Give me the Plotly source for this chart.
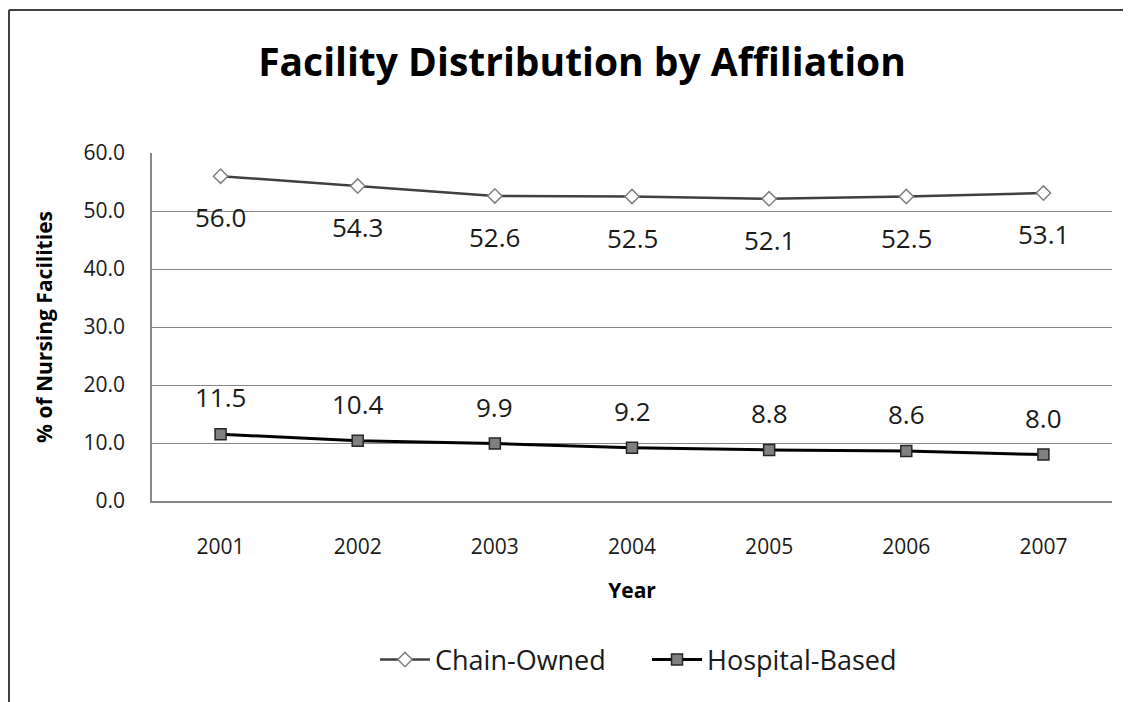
import plotly.graph_objects as go

years = ["2001", "2002", "2003", "2004", "2005", "2006", "2007"]
chain_owned = [56.0, 54.3, 52.6, 52.5, 52.1, 52.5, 53.1]
hospital_based = [11.5, 10.4, 9.9, 9.2, 8.8, 8.6, 8.0]
y_ticks = [0, 10, 20, 30, 40, 50, 60]

FONT = "Open Sans"
TXT = "#1a1a1a"
fig = go.Figure()
fig.add_trace(go.Scatter(
    x=years, y=chain_owned, name="Chain-Owned", mode="lines+markers",
    line=dict(color="#404040", width=2.5),
    marker=dict(symbol="diamond", size=11, color="white", line=dict(color="#808080", width=1.5)),
))
fig.add_trace(go.Scatter(
    x=years, y=hospital_based, name="Hospital-Based", mode="lines+markers",
    line=dict(color="#000000", width=3),
    marker=dict(symbol="square", size=11, color="#808080", line=dict(color="#262626", width=1.5)),
))

annotations = []
for i, v in enumerate(chain_owned):
    annotations.append(dict(x=i, y=v, xref="x", yref="y", text=f"{v:.1f}", showarrow=False,
                            yshift=-41, font=dict(family=FONT, size=26, color=TXT)))
for i, v in enumerate(hospital_based):
    annotations.append(dict(x=i, y=v, xref="x", yref="y", text=f"{v:.1f}", showarrow=False,
                            yshift=37, font=dict(family=FONT, size=26, color=TXT)))

W, H = 1123, 694
L, R, T, B = 144, 19, 145, 201
PW, PH = W - L - R, H - T - B
bx = (1 - L) / PW
by = (H - B - 2) / PH

fig.update_layout(
    width=W, height=H,
    margin=dict(l=L, r=R, t=T, b=B),
    paper_bgcolor="white", plot_bgcolor="white",
    annotations=annotations,
    shapes=[
        dict(type="line", xref="paper", yref="paper", x0=bx, x1=bx, y0=-0.7, y1=by,
             line=dict(color="#404040", width=2)),
        dict(type="line", xref="paper", yref="paper", x0=bx, x1=1.2, y0=by, y1=by,
             line=dict(color="#404040", width=2)),
    ],
    title=dict(text="<b>Facility Distribution by Affiliation</b>", x=574 / W, xanchor="center",
               y=1 - 54 / H, yanchor="middle", font=dict(family=FONT, size=39, color="#000000")),
    xaxis=dict(type="category", range=[-0.5, 6.5], showgrid=False, showline=True,
               linecolor="#868686", linewidth=1.5, ticks="", ticklabelstandoff=26,
               tickfont=dict(family=FONT, size=21, color=TXT),
               title=dict(text="<b>Year</b>", standoff=24, font=dict(family=FONT, size=21, color="#000000"))),
    yaxis=dict(range=[0, 60], tickvals=y_ticks, ticktext=[f"{t:.1f}" for t in y_ticks],
               showgrid=True, gridcolor="#868686", gridwidth=1.3, showline=True, linecolor="#868686",
               linewidth=1.5, zeroline=False, ticks="", ticklabelstandoff=21,
               tickfont=dict(family=FONT, size=21, color=TXT),
               title=dict(text="<b>% of Nursing Facilities</b>", standoff=25,
                          font=dict(family=FONT, size=21, color="#000000"))),
    showlegend=True,
    legend=dict(orientation="h", x=(639 - L) / PW, xanchor="center", y=(H - B - 652) / PH,
                yanchor="middle", itemwidth=50, entrywidth=207,
                font=dict(family=FONT, size=27, color=TXT)),
)

fig.write_html("out.html")
